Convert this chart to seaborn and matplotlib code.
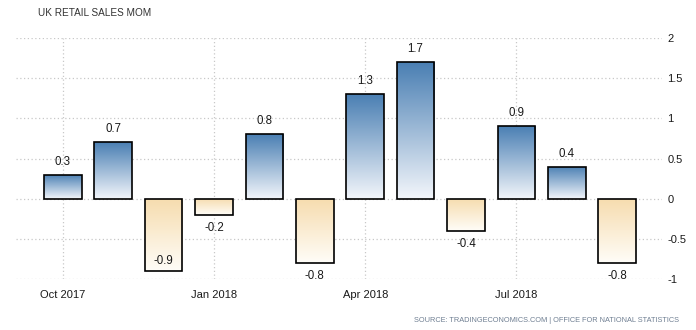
import numpy as np
import pandas as pd
import matplotlib
matplotlib.use("Agg")
import matplotlib.pyplot as plt
import seaborn as sns
from matplotlib.colors import LinearSegmentedColormap

months = ["Oct 2017", "Nov 2017", "Dec 2017", "Jan 2018", "Feb 2018", "Mar 2018",
          "Apr 2018", "May 2018", "Jun 2018", "Jul 2018", "Aug 2018", "Sep 2018"]
values = [0.3, 0.7, -0.9, -0.2, 0.8, -0.8, 1.3, 1.7, -0.4, 0.9, 0.4, -0.8]
tick_months = ["Oct 2017", "Jan 2018", "Apr 2018", "Jul 2018"]
y_ticks = [-1, -0.5, 0, 0.5, 1, 1.5, 2]

df = pd.DataFrame({"month": months, "value": values})

sns.set_theme(style="white")
plt.rcParams["font.family"] = ["Liberation Sans", "DejaVu Sans"]

fig = plt.figure(figsize=(6.96, 3.30), dpi=100)
ax = fig.add_axes([16 / 696, 1 - 279 / 330, (662 - 16) / 696, (279 - 38) / 330])

sns.barplot(data=df, x="month", y="value", ax=ax, width=0.745,
            facecolor="none", edgecolor="black", linewidth=1.2, zorder=3)

pos_cmap = LinearSegmentedColormap.from_list("pos", ["#4a7fb3", "#f3f6fb"])
neg_cmap = LinearSegmentedColormap.from_list("neg", ["#f6dcae", "#fffdf8"])
grad = np.linspace(0, 1, 256).reshape(-1, 1)

ax.set_xlim(-0.93, 11.89)
ax.set_ylim(-1, 2)

for patch, v in zip(ax.patches, values):
    x0 = patch.get_x()
    w = patch.get_width()
    y0, y1 = sorted([0, v])
    cmap = pos_cmap if v >= 0 else neg_cmap
    im = ax.imshow(grad, cmap=cmap, aspect="auto", extent=(x0, x0 + w, y0, y1),
                   origin="upper", zorder=2)
    im.set_clip_path(patch)

# value labels
txt = "#1a1a1a"
for i, v in enumerate(values):
    label = f"{v:g}"
    if v >= 0:
        ax.annotate(label, (i, v), xytext=(0, 5), textcoords="offset points",
                    ha="center", va="bottom", fontsize=8.3, color=txt, zorder=4)
    elif v - 0.2 < -1:
        ax.annotate(label, (i, v), xytext=(0, 3), textcoords="offset points",
                    ha="center", va="bottom", fontsize=8.3, color=txt, zorder=4)
    else:
        ax.annotate(label, (i, v), xytext=(0, -5), textcoords="offset points",
                    ha="center", va="top", fontsize=8.3, color=txt, zorder=4)

ax.set_xticks([months.index(m) for m in tick_months])
ax.set_xticklabels(tick_months, fontsize=8, color=txt)
ax.set_yticks(y_ticks)
ax.set_yticklabels([f"{t:g}" for t in y_ticks], fontsize=8, color=txt)
ax.yaxis.tick_right()
ax.tick_params(axis="both", length=0)
ax.tick_params(axis="x", pad=8)
ax.tick_params(axis="y", pad=4)
ax.set_xlabel("")
ax.set_ylabel("")
ax.grid(True, color="#c8c8c8", linestyle=(0, (1, 2)), linewidth=0.9, zorder=0)
ax.set_axisbelow(True)
for s in ax.spines.values():
    s.set_visible(False)

fig.text(38 / 696, 1 - 13 / 330, "UK RETAIL SALES MOM", fontsize=7.2,
         color="#333333", ha="left", va="center")
fig.text(679 / 696, 1 - 321 / 330,
         "SOURCE: TRADINGECONOMICS.COM | OFFICE FOR NATIONAL STATISTICS",
         fontsize=5.3, color="#6f7f92", ha="right", va="center")

fig.savefig("out.png", dpi=100)
